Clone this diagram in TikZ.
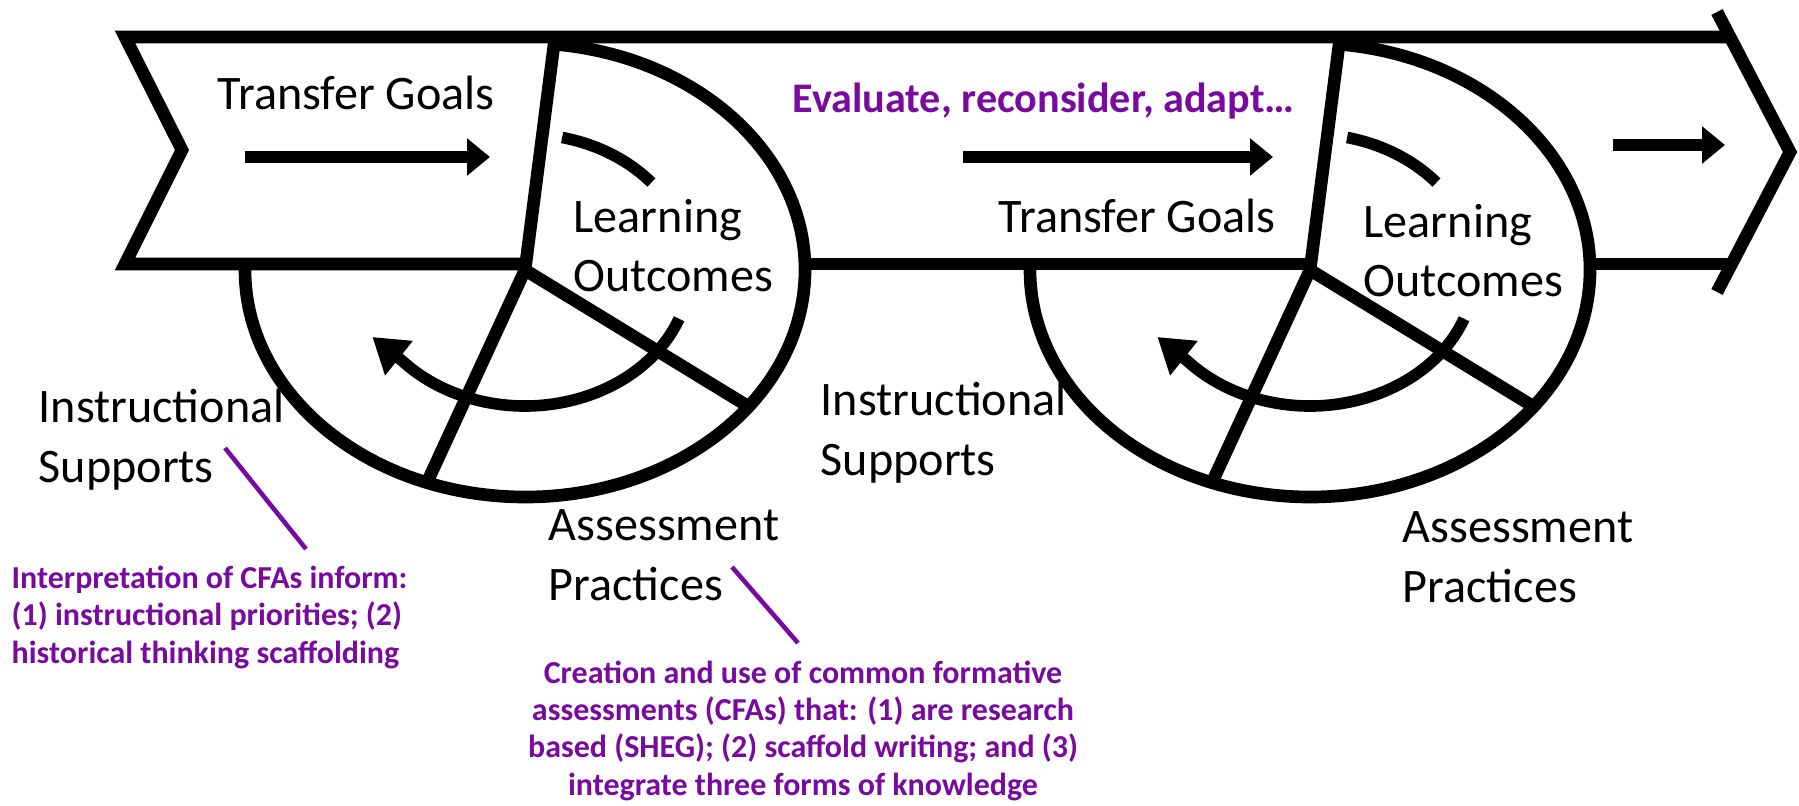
\documentclass[tikz,border=0pt]{standalone}
\usepackage{fontspec}
\setmainfont{Carlito}
\usetikzlibrary{arrows.meta,calc}
\definecolor{notepurple}{RGB}{120,10,160}

\begin{document}
\begin{tikzpicture}[
		band/.style={line width=3.6pt},
		ring/.style={line width=3.3pt},
		fwd/.style={line width=3.6pt,-{Triangle[length=0.23cm,width=0.36cm]}},
		lbl/.style={inner sep=0pt,align=left,font=\fontsize{13.7}{16.8}\selectfont},
		note/.style={inner sep=0pt,text=notepurple,font=\bfseries\fontsize{9.1}{10.6}\selectfont},
		pointer/.style={notepurple,line width=1.3pt}
	]
		\useasboundingbox (0,0) rectangle (17.99,8.05);
		
		% the long band
		\draw[band] (17.30,7.68) -- (1.25,7.68) -- (1.82,6.55) -- (1.25,5.41) -- (5.26,5.41);
		\draw[band] (8.05,5.41) -- (13.11,5.41);
		\draw[band] (15.90,5.41) -- (17.31,5.41);
		\draw[band] (17.17,7.93) -- (17.90,6.53) -- (17.17,5.13);
		
		% the two cycles
		\foreach \dx/\i in {0/1,7.85/2}{
			\coordinate (hub\i) at (5.25+\dx,5.35);
			\coordinate (top\i) at (5.55+\dx,7.68);
			\draw[band] (top\i) -- (hub\i) -- ($(hub\i)+(-110.5:2.8 and 2.27)$);
			\draw[band] (hub\i) -- ($(hub\i)+(-37:2.8 and 2.27)$);
			\draw[band] ($(hub\i)+(84:2.8 and 2.27)$) arc[start angle=84,end angle=-181,x radius=2.8,y radius=2.27];
			\draw[ring] ($(hub\i)+(77:1.65 and 1.36)$) arc[start angle=77,end angle=40,x radius=1.65,y radius=1.36];
			\draw[ring,-{Triangle[length=0.34cm,width=0.42cm]}] ($(hub\i)+(-21:1.65 and 1.36)$) arc[start angle=-21,end angle=-138,x radius=1.65,y radius=1.36] -- ++(-0.30,0.24);
		}
		
		\coordinate (go1a) at (2.45,6.48);
		\coordinate (go1b) at (4.90,6.48);
		\coordinate (go2a) at (9.63,6.48);
		\coordinate (go2b) at (12.73,6.48);
		\coordinate (go3a) at (16.13,6.60);
		\coordinate (go3b) at (17.25,6.60);
		\draw[fwd] (go1a) -- (go1b);
		\draw[fwd] (go2a) -- (go2b);
		\draw[fwd] (go3a) -- (go3b);
		
		\node[lbl,anchor=base west] (goal1) at (2.17,6.95) {Transfer Goals};
		\node[lbl,anchor=base west] (outc1) at (5.73,5.13) {Learning\\Outcomes};
		\node[lbl,anchor=base west] (supp1) at (0.38,3.23) {Instructional\\Supports};
		\node[lbl,anchor=base west] (asse1) at (5.48,2.05) {Assessment\\Practices};
		\node[lbl,anchor=base west] (goal2) at (9.98,5.72) {Transfer Goals};
		\node[lbl,anchor=base west] (outc2) at (13.63,5.08) {Learning\\Outcomes};
		\node[lbl,anchor=base west] (supp2) at (8.20,3.30) {Instructional\\Supports};
		\node[lbl,anchor=base west] (asse2) at (14.02,2.03) {Assessment\\Practices};
		
		% notes
		\node[note,anchor=base west,font=\bfseries\fontsize{12}{14}\selectfont] (evalnote) at (7.92,6.92) {Evaluate, reconsider, adapt…};
		\node[note,anchor=base west,align=left] (interpnote) at (0.11,1.42) {Interpretation of CFAs inform:\\(1) instructional priorities; (2)\\historical thinking scaffolding};
		\node[note,anchor=base,align=center] (cfanote) at (8.03,0.10) {Creation and use of common formative\\assessments (CFAs) that: (1) are research\\based (SHEG); (2) scaffold writing; and (3)\\integrate three forms of knowledge};
		\coordinate (pt1a) at (2.25,3.57);
		\coordinate (pt1b) at (3.06,2.56);
		\coordinate (pt2a) at (7.32,2.38);
		\coordinate (pt2b) at (7.98,1.62);
		\draw[pointer] (pt1a) -- (pt1b);
		\draw[pointer] (pt2a) -- (pt2b);
		
	\end{tikzpicture}
\end{document}
